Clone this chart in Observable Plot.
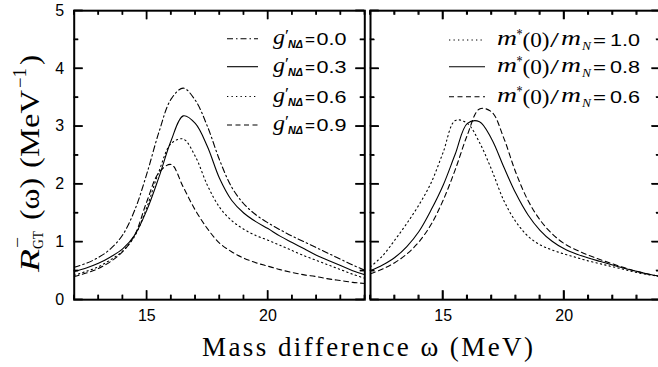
<!DOCTYPE html>
<html><head><meta charset="utf-8">
<script src="https://cdn.jsdelivr.net/npm/d3@7"></script>
<script src="https://cdn.jsdelivr.net/npm/@observablehq/plot@0.6"></script>
<style>
html,body{margin:0;padding:0;background:#fff;overflow:hidden;width:658px;height:367px;}
#wrap{position:relative;width:720px;height:367px;}
#wrap > svg{position:absolute;top:0;}
</style></head><body><div id="wrap"></div>
<script>
// ---- data ----
const omega = [12,12.5,13,13.5,14,14.5,15,15.5,16,16.5,17,17.5,18,18.5,19,19.5,20,20.5,21,21.5,22,22.5,23,23.5,24];
// left panel: g'_NΔ series
const gLabels = ["0.0","0.3","0.6","0.9"];
const g00 = [0.56,0.63,0.73,0.88,1.12,1.55,2.18,2.90,3.47,3.66,3.45,3.00,2.42,1.95,1.66,1.47,1.33,1.21,1.10,1.00,0.90,0.80,0.70,0.60,0.51];
const g03 = [0.49,0.55,0.63,0.74,0.88,1.12,1.55,2.12,2.75,3.18,3.05,2.65,2.10,1.72,1.50,1.35,1.23,1.10,0.99,0.88,0.77,0.68,0.59,0.50,0.43];
const g06 = [0.42,0.49,0.57,0.69,0.84,1.10,1.60,2.22,2.70,2.78,2.48,1.98,1.60,1.37,1.22,1.11,1.03,0.94,0.85,0.76,0.68,0.60,0.52,0.44,0.37];
const g09 = [0.40,0.46,0.54,0.66,0.83,1.12,1.70,2.20,2.34,1.95,1.55,1.23,0.98,0.83,0.72,0.64,0.58,0.52,0.47,0.43,0.40,0.36,0.33,0.30,0.28];
// right panel: m*(0)/m_N series
const mLabels = ["1.0","0.8","0.6"];
const m10 = [0.57,0.76,1.03,1.32,1.64,2.02,2.55,3.10,3.05,2.72,2.25,1.72,1.35,1.10,0.95,0.86,0.79,0.73,0.67,0.62,0.57,0.52,0.47,0.43,0.40];
const m08 = [0.50,0.60,0.73,0.92,1.18,1.55,1.98,2.52,3.05,3.08,2.78,2.30,1.84,1.47,1.20,1.01,0.88,0.79,0.72,0.66,0.60,0.54,0.49,0.44,0.40];
const m06 = [0.45,0.53,0.64,0.79,1.00,1.30,1.72,2.25,2.85,3.30,3.25,2.80,2.20,1.72,1.38,1.14,0.97,0.86,0.77,0.69,0.62,0.55,0.49,0.44,0.40];
// ticks
const xMajor = [15,20];
const xMinor = [12,13,14,16,17,18,19,21,22,23,24];
const yMajor = [0,1,2,3,4,5];
const yMinor = [0.5,1.5,2.5,3.5,4.5];

// ---- styles ----
const DASH = {dashdot:"6,3,1.5,3", solid:null, dotted:"1.3,3.2", dashed:"5,3.5"};
const leftSeries = [
  {label:gLabels[0], v:g00, dash:DASH.dashdot},
  {label:gLabels[1], v:g03, dash:DASH.solid},
  {label:gLabels[2], v:g06, dash:DASH.dotted},
  {label:gLabels[3], v:g09, dash:DASH.dashed}
];
const rightSeries = [
  {label:mLabels[0], v:m10, dash:DASH.dotted},
  {label:mLabels[1], v:m08, dash:DASH.solid},
  {label:mLabels[2], v:m06, dash:DASH.dashed}
];

const PW = 290.6, PT = 10.2, PH = 289, HEIGHT = 335;
const MAJ = 9, MIN = 4.5;
const XD = [12, 24], YD = [0, 5];

function panel(series, mL, mR, showY) {
  const marks = [];
  for (const s of series) {
    marks.push(Plot.line(omega, {x: d => d, y: (d, i) => s.v[i], stroke: "#000", strokeWidth: 1.1,
      strokeDasharray: s.dash || undefined, curve: "catmull-rom", clip: true}));
  }
  const tk = {stroke: "#000", strokeWidth: 1.3};
  marks.push(
    Plot.tickX(xMajor, {x: d => d, insetTop: PH - MAJ, ...tk}),
    Plot.tickX(xMajor, {x: d => d, insetBottom: PH - MAJ, ...tk}),
    Plot.tickX(xMinor, {x: d => d, insetTop: PH - MIN, ...tk}),
    Plot.tickX(xMinor, {x: d => d, insetBottom: PH - MIN, ...tk}),
    Plot.tickY(yMajor, {y: d => d, insetRight: PW - MAJ, ...tk}),
    Plot.tickY(yMajor, {y: d => d, insetLeft: PW - MAJ, ...tk}),
    Plot.tickY(yMinor, {y: d => d, insetRight: PW - MIN, ...tk}),
    Plot.tickY(yMinor, {y: d => d, insetLeft: PW - MIN, ...tk}),
    Plot.frame({stroke: "#000", strokeWidth: 2}),
    Plot.axisX(xMajor, {anchor: "bottom", tickSize: 0, tickPadding: 10, fontSize: 16, label: null, tickFormat: d => String(d)})
  );
  if (showY) marks.push(Plot.axisY(yMajor, {anchor: "left", tickSize: 0, tickPadding: 10, fontSize: 16, label: null, tickFormat: d => String(d)}));
  return Plot.plot({
    width: mL + PW + mR, height: HEIGHT,
    marginLeft: mL, marginRight: mR, marginTop: PT, marginBottom: HEIGHT - PT - PH,
    x: {domain: XD, axis: null},
    y: {domain: YD, axis: null},
    style: {fontFamily: "'Liberation Sans', Arial, sans-serif", color: "#000", background: "transparent", overflow: "visible"},
    marks
  });
}

const wrap = document.getElementById("wrap");
const LEFT_OFF = 0, RIGHT_OFF = 369.7 - 3;
const left = panel(leftSeries, 73.7, 3, true);
left.style.left = LEFT_OFF + "px";
wrap.appendChild(left);
const right = panel(rightSeries, 3, 3, false);
right.style.left = RIGHT_OFF + "px";
wrap.appendChild(right);

// ---- overlay: tick marks (from the panels' own scales), axis titles and legends ----
const ov = d3.select(wrap).append("svg").attr("width", 720).attr("height", 367)
  .style("left", "0px").style("pointer-events", "none");
const SERIF = "'Liberation Serif', 'DejaVu Serif', serif";
const SANS = "'Liberation Sans', Arial, sans-serif";

function scaleFn(plot, name, range) {
  try { const s = plot.scale(name); if (s && s.apply) return v => s.apply(v); } catch (e) {}
  const l = d3.scaleLinear().domain(name === "x" ? XD : YD).range(range);
  return v => l(v);
}
function drawTicks(plot, off, mL) {
  const sx = scaleFn(plot, "x", [mL, mL + PW]);
  const sy = scaleFn(plot, "y", [PT + PH, PT]);
  const g = ov.append("g").attr("stroke", "#000").attr("stroke-width", 1.3);
  const xl = off + sx(XD[0]), xr = off + sx(XD[1]), yb = sy(YD[0]), yt = sy(YD[1]);
  const put = (x1, y1, x2, y2) => g.append("line").attr("x1", x1).attr("y1", y1).attr("x2", x2).attr("y2", y2);
  for (const [arr, len] of [[xMajor, MAJ], [xMinor, MIN]]) for (const v of arr) {
    const x = off + sx(v); put(x, yb, x, yb - len); put(x, yt, x, yt + len);
  }
  for (const [arr, len] of [[yMajor, MAJ], [yMinor, MIN]]) for (const v of arr) {
    const y = sy(v); put(xl, y, xl + len, y); put(xr, y, xr - len, y);
  }
}
drawTicks(left, LEFT_OFF, 73.7);
drawTicks(right, RIGHT_OFF, 3);

function piece(parent, x, y, str, opt = {}) {
  const t = parent.append("text").attr("x", x).attr("y", y)
    .attr("font-family", opt.family || SERIF).attr("font-size", opt.size || 20);
  if (opt.italic) t.attr("font-style", "italic");
  if (opt.bold) t.attr("font-weight", "bold");
  if (opt.len) t.attr("textLength", opt.len).attr("lengthAdjust", "spacingAndGlyphs");
  t.text(str);
  return t;
}

// x title
ov.append("text").attr("x", 202).attr("y", 356).attr("font-family", SERIF).attr("font-size", 27)
  .attr("textLength", 331).attr("lengthAdjust", "spacing").text("Mass difference ω (MeV)");

// y title (rotated)
const ytl = ov.append("g").attr("transform", "translate(39,272) rotate(-90)");
piece(ytl, 0, 0, "R", {size: 28, italic: true, len: 23});
piece(ytl, 23, 4, "GT", {size: 15, len: 18});
piece(ytl, 24, -16, "−", {size: 17, len: 11});
piece(ytl, 52, 0, "(ω)", {size: 28, len: 42});
piece(ytl, 104, 0, "(MeV", {size: 28, len: 78});
piece(ytl, 184, -13, "−1", {size: 18, len: 20});
piece(ytl, 207, 0, ")", {size: 28, len: 10});

// left legend
const rowsL = [38.7, 66.7, 96.5, 125];
leftSeries.forEach((s, i) => {
  const y = rowsL[i];
  ov.append("line").attr("x1", 227).attr("x2", 258).attr("y1", y).attr("y2", y)
    .attr("stroke", "#000").attr("stroke-width", 1.1).attr("stroke-dasharray", s.dash || null);
  piece(ov, 273, y + 5, "g", {size: 21, italic: true, len: 12});
  piece(ov, 285, y + 2, "′", {size: 17, len: 4});
  piece(ov, 288, y + 9, "NΔ", {size: 11, italic: true, bold: true, family: SANS, len: 15});
  piece(ov, 305, y + 6, "=", {size: 17, family: SANS, len: 10});
  piece(ov, 316.5, y + 6, s.label, {size: 17, family: SANS, len: 30});
});

// right legend
const rowsR = [40, 66.7, 96.7];
rightSeries.forEach((s, i) => {
  const y = rowsR[i];
  ov.append("line").attr("x1", 449).attr("x2", 485).attr("y1", y).attr("y2", y)
    .attr("stroke", "#000").attr("stroke-width", 1.1).attr("stroke-dasharray", s.dash || null);
  piece(ov, 497, y + 5, "m", {size: 21, italic: true, len: 20});
  piece(ov, 516.5, y - 1, "*", {size: 14, len: 6});
  piece(ov, 522.5, y + 7, "(0)", {size: 21, len: 27});
  piece(ov, 550, y + 7, "/", {size: 21, len: 9});
  piece(ov, 561, y + 5, "m", {size: 21, italic: true, len: 20});
  piece(ov, 582, y + 10, "N", {size: 13, italic: true, len: 9});
  piece(ov, 593, y + 6, "=", {size: 17, family: SANS, len: 13});
  piece(ov, 610, y + 6, s.label, {size: 17, family: SANS, len: 30});
});
</script>
</body></html>
